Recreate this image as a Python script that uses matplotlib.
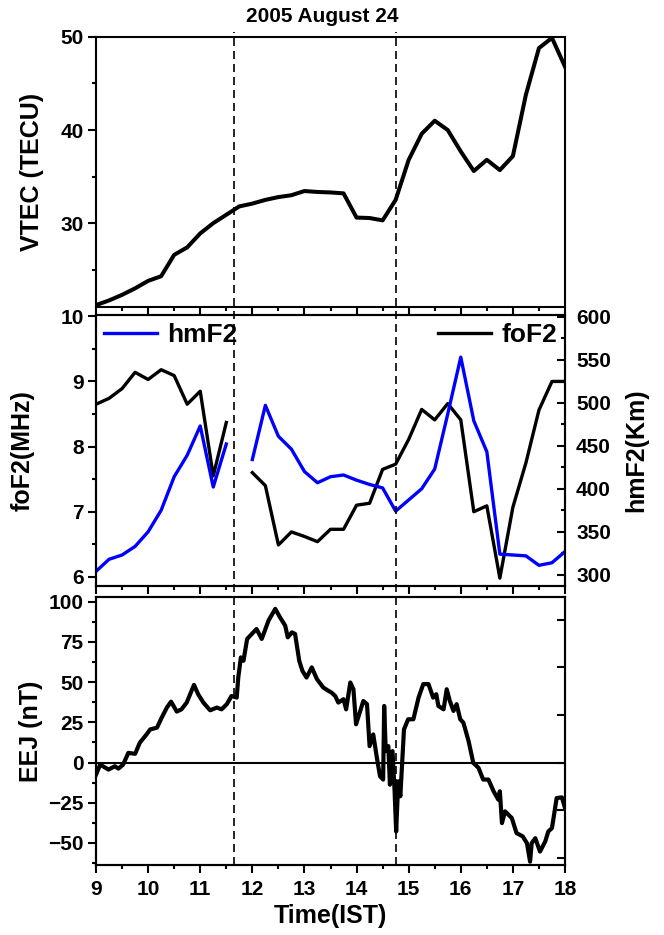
import numpy as np
import matplotlib
matplotlib.use("Agg")
import matplotlib.pyplot as plt
from matplotlib.lines import Line2D
from matplotlib import transforms
from matplotlib.ticker import MultipleLocator, NullFormatter

plt.rcParams['font.family'] = ['Liberation Sans', 'DejaVu Sans']
plt.rcParams['font.weight'] = 'bold'
plt.rcParams['axes.labelweight'] = 'bold'
plt.rcParams['axes.linewidth'] = 1.5

# 15 min samples (IST hours)
hours = [9.0, 9.25, 9.5, 9.75, 10.0, 10.25, 10.5, 10.75, 11.0, 11.25, 11.5, 11.75,
         12.0, 12.25, 12.5, 12.75, 13.0, 13.25, 13.5, 13.75, 14.0, 14.25, 14.5, 14.75,
         15.0, 15.25, 15.5, 15.75, 16.0, 16.25, 16.5, 16.75, 17.0, 17.25, 17.5, 17.75, 18.0]

vtec = [21.2, 21.7, 22.3, 23.0, 23.8, 24.3, 26.6, 27.4, 28.9, 30.0, 30.9, 31.8,
        32.1, 32.5, 32.8, 33.0, 33.45, 33.35, 33.3, 33.2, 30.6, 30.55, 30.3, 32.5,
        36.8, 39.6, 41.0, 40.0, 37.7, 35.6, 36.8, 35.7, 37.2, 43.8, 48.8, 49.9, 46.8]

nan = np.nan
fof2 = [8.65, 8.74, 8.89, 9.14, 9.03, 9.18, 9.09, 8.65, 8.85, 7.55, 8.37, nan,
        7.60, 7.40, 6.49, 6.69, 6.62, 6.54, 6.73, 6.73, 7.10, 7.13, 7.65, 7.73,
        8.11, 8.57, 8.41, 8.66, 8.41, 7.00, 7.09, 5.98, 7.07, 7.75, 8.56, 9.00, 9.00]

hmf2 = [304, 318, 323, 333, 350, 375, 414, 439, 473, 402, 452, nan,
        434, 497, 461, 446, 420, 407, 414, 416, 410, 405, 401, 374,
        387, 400, 423, 487, 553, 479, 443, 324, 323, 322, 311, 314, 327]

# EEJ (nT), irregular readout of the magnetometer trace
eej_time = [9.00, 9.08, 9.24, 9.36, 9.43, 9.52, 9.62, 9.75, 9.84, 9.97,
            10.04, 10.17, 10.26, 10.36, 10.44, 10.55, 10.64, 10.74, 10.88, 10.96,
            11.06, 11.19, 11.32, 11.41, 11.51, 11.60, 11.70, 11.73, 11.78, 11.83,
            11.90, 11.99, 12.08, 12.18, 12.24, 12.31, 12.44, 12.53, 12.63, 12.68,
            12.76, 12.82, 12.90, 12.96, 13.04, 13.14, 13.24, 13.36, 13.46, 13.52,
            13.59, 13.65, 13.75, 13.80, 13.88, 13.94, 13.99, 14.05, 14.13, 14.20,
            14.25, 14.32, 14.39, 14.45, 14.51, 14.53, 14.56, 14.61, 14.64, 14.69,
            14.73, 14.76, 14.80, 14.84, 14.91, 14.99, 15.09, 15.19, 15.28, 15.38,
            15.47, 15.53, 15.57, 15.67, 15.73, 15.79, 15.86, 15.92, 15.99, 16.05,
            16.15, 16.24, 16.34, 16.43, 16.53, 16.63, 16.72, 16.75, 16.79, 16.85,
            16.98, 17.07, 17.19, 17.27, 17.33, 17.36, 17.43, 17.52, 17.62, 17.68,
            17.75, 17.84, 17.94, 18.00]
eej = [-7.5, -1.3, -4.4, -2.3, -3.8, -1.3, 6.0, 5.4, 12.3, 17.5,
       20.6, 21.7, 27.9, 34.2, 37.9, 31.7, 33.1, 37.3, 48.3, 42.5,
       37.3, 32.5, 34.2, 33.1, 36.3, 41.4, 40.4, 52.9, 65.4, 63.3,
       76.9, 80.0, 83.1, 76.9, 82.1, 88.3, 95.6, 90.4, 85.2, 77.9,
       81.0, 80.0, 63.3, 57.1, 52.9, 59.2, 51.9, 46.7, 44.6, 43.5,
       41.4, 37.3, 39.4, 33.1, 49.8, 45.6, 23.8, 30.0, 38.3, 36.3,
       10.2, 17.5, 2.9, -8.5, -10.6, 35.2, 7.1, 10.2, -13.8, 7.1,
       -17.9, -42.9, -11.7, -21.0, 20.6, 26.9, 26.9, 40.4, 48.8, 48.8,
       40.4, 42.5, 35.2, 33.1, 45.6, 38.3, 32.1, 36.3, 26.9, 24.8,
       13.3, -0.2, -3.3, -10.6, -10.6, -17.9, -23.1, -17.9, -37.7, -30.4,
       -34.6, -43.9, -46.0, -50.2, -61.7, -50.2, -47.1, -55.4, -49.2, -42.9,
       -40.8, -22.1, -21.7, -28.3]

event_times = [11.65, 14.75]

fig = plt.figure(figsize=(6.64, 9.35), dpi=100)
left, width = 0.1446, 0.7063
ax_top = fig.add_axes([left, 0.6717, width, 0.2888])
ax_mid = fig.add_axes([left, 0.3733, width, 0.2898])
ax_bot = fig.add_axes([left, 0.0749, width, 0.2866])

lab_fs = 18
tick_fs = 15

for ax in (ax_top, ax_mid, ax_bot):
    ax.set_xlim(9, 18)
    ax.xaxis.set_major_locator(MultipleLocator(1))
    ax.xaxis.set_minor_locator(MultipleLocator(0.5))
    ax.tick_params(which='both', direction='out', width=1.5, labelsize=tick_fs,
                   top=False, right=False, pad=3)
    ax.tick_params(axis='x', pad=5)
    ax.tick_params(which='major', length=6)
    ax.tick_params(which='minor', length=3)
    for sp in ax.spines.values():
        sp.set_linewidth(1.5)

ax_top.tick_params(labelbottom=False)
ax_mid.tick_params(labelbottom=False)

# VTEC
ax_top.plot(hours, vtec, color='black', lw=2.9)
ax_top.set_ylim(21, 50)
ax_top.set_yticks([30, 40, 50])
ax_top.yaxis.set_minor_locator(MultipleLocator(5))
ax_top.set_ylabel('VTEC (TECU)', fontsize=lab_fs)
ax_top.yaxis.set_label_coords(-0.111, 0.5)

# foF2 / hmF2
ax_mid.plot(hours, fof2, color='black', lw=2.4, label='foF2')
ax_mid.set_ylim(5.86, 10.02)
ax_mid.yaxis.set_major_locator(MultipleLocator(1))
ax_mid.yaxis.set_minor_locator(MultipleLocator(0.5))
ax_mid.set_ylabel('foF2(MHz)', fontsize=lab_fs)
ax_mid.yaxis.set_label_coords(-0.130, 0.5)

ax_mid2 = ax_mid.twinx()
ax_mid2.plot(hours, hmf2, color='#0000ff', lw=2.4, label='hmF2')
ax_mid2.set_ylim(287, 602)
ax_mid2.yaxis.set_major_locator(MultipleLocator(50))
ax_mid2.yaxis.set_minor_locator(MultipleLocator(25))
ax_mid2.tick_params(which='both', direction='in', width=1.5, labelsize=tick_fs, pad=8)
ax_mid2.tick_params(which='major', length=6)
ax_mid2.tick_params(which='minor', length=3)
ax_mid2.set_ylabel('hmF2(Km)', fontsize=lab_fs)
ax_mid2.yaxis.set_label_coords(1.126, 0.5)

leg_kw = dict(frameon=False, fontsize=19, handlelength=2.0, handletextpad=0.4,
              borderaxespad=0.1, borderpad=0.2)
leg1 = ax_mid2.legend(loc='upper left', **leg_kw)
ax_mid2.add_artist(leg1)
ax_mid2.legend(handles=ax_mid.get_lines(), loc='upper right', **leg_kw)

# EEJ
ax_bot.plot(eej_time, eej, color='black', lw=3.0)
ax_bot.axhline(0, color='black', lw=1.5)
ax_bot.set_ylim(-63.75, 103)
ax_bot.yaxis.set_major_locator(MultipleLocator(25))
ax_bot.yaxis.set_minor_locator(MultipleLocator(12.5))
ax_bot.set_ylabel('EEJ (nT)', fontsize=lab_fs)
ax_bot.yaxis.set_label_coords(-0.113, 0.5)
ax_bot.set_xlabel('Time(IST)', fontsize=lab_fs)
ax_bot.xaxis.set_label_coords(0.5, -0.145)

ax_bot2 = ax_bot.twinx()
ax_bot2.set_ylim(-2.147, 3.474)
ax_bot2.yaxis.set_major_locator(MultipleLocator(1))
ax_bot2.yaxis.set_major_formatter(NullFormatter())
ax_bot2.tick_params(direction='in', width=1.5, length=6)

# event markers across all panels
blend = transforms.blended_transform_factory(ax_bot.transData, fig.transFigure)
for t in event_times:
    fig.add_artist(Line2D([t, t], [0.0749, 0.966], transform=blend, color='black',
                          lw=1.2, linestyle=(0, (4.8, 3))))

fig.text(0.485, 1 - 17 / 935, '2005 August 24', ha='center', va='center', fontsize=15)

fig.savefig('out.png', dpi=100)
